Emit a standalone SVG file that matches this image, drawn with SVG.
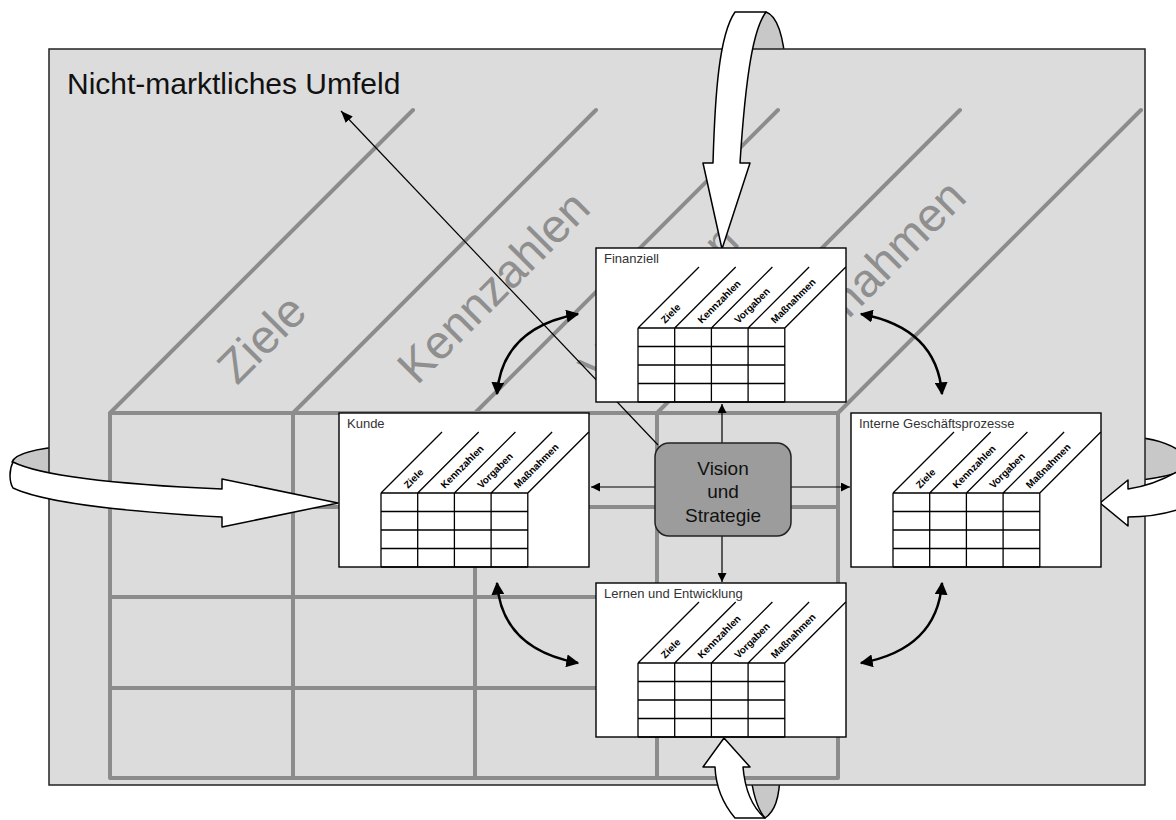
<svg xmlns="http://www.w3.org/2000/svg" width="1176" height="820" viewBox="0 0 1176 820">
<defs>
<style>
.bg{fill:#dcdcdc;stroke:#222;stroke-width:1.5}
.grid{stroke:#8c8c8c;stroke-width:4;fill:none;stroke-linecap:round}
.big{font-family:"Liberation Sans",Arial,sans-serif;font-size:47px;fill:#8f8f8f}
.box{fill:#fff;stroke:#000;stroke-width:1.4}
.tbl{stroke:#000;stroke-width:1.3;fill:none}
.ttl{font-family:"Liberation Sans",Arial,sans-serif;font-size:13px;fill:#333}
.lbl{font-family:"Liberation Sans",Arial,sans-serif;font-size:10px;font-weight:bold;fill:#000}
.thin{stroke:#000;stroke-width:1.2;fill:none}
.curve{stroke:#000;stroke-width:2.5;fill:none}
.hollow{fill:#fff;stroke:#000;stroke-width:1.5;stroke-linejoin:round}
.back{fill:#c8c8c8;stroke:#000;stroke-width:1.5}
.vis{fill:#9c9c9c;stroke:#222;stroke-width:1.5}
.vtxt{font-family:"Liberation Sans",Arial,sans-serif;font-size:19px;fill:#111;text-anchor:middle}
</style>
<marker id="ah" viewBox="0 0 10 10" refX="10" refY="5" markerWidth="9" markerHeight="9" markerUnits="userSpaceOnUse" orient="auto"><path d="M0,0 L10,5 L0,10 Z" fill="#000"/></marker>
<marker id="ahl" viewBox="0 0 10 10" refX="10" refY="5" markerWidth="12" markerHeight="12" markerUnits="userSpaceOnUse" orient="auto"><path d="M0,1 L10,5 L0,9 Z" fill="#000"/></marker>
<marker id="ahc" viewBox="0 0 10 10" refX="9" refY="5" markerWidth="13" markerHeight="13" markerUnits="userSpaceOnUse" orient="auto-start-reverse"><path d="M0,0 L10,5 L0,10 Z" fill="#000"/></marker>
<g id="table">
<rect x="0" y="0" width="250" height="154" class="box"/>
<path class="tbl" d="M42,80 H188.8 M42,98.5 H188.8 M42,117 H188.8 M42,135.5 H188.8 M42,154 H188.8 M42,80 V154 M78.7,80 V154 M115.4,80 V154 M152.1,80 V154 M188.8,80 V154 M42,80 L103,19 M78.7,80 L139.7,19 M115.4,80 L176.4,19 M152.1,80 L213.1,19 M188.8,80 L249.8,19"/>
<text class="lbl" transform="translate(69,76) rotate(-45)">Ziele</text>
<text class="lbl" transform="translate(105.7,76) rotate(-45)">Kennzahlen</text>
<text class="lbl" transform="translate(142.4,76) rotate(-45)">Vorgaben</text>
<text class="lbl" transform="translate(179.1,76) rotate(-45)">Maßnahmen</text>
</g>
</defs>

<g id="arrow-backs">
<path class="back" d="M766,12 C778,16 784,40 786,70 L748,70 C750,40 756,22 766,12 Z"/>
<path class="back" d="M12,462 C16,452 40,448 70,446 L70,476 C40,474 22,469 12,462 Z"/>
<path class="back" d="M1125,437 C1150,437 1168,443 1180,451 L1180,472 C1165,477 1145,480 1125,482 Z"/>
<path class="back" d="M750,770 L780,770 C780,800 774,812 765,818 C758,810 753,797 750,770 Z"/>
</g>

<g id="environment">
<rect class="bg" x="49" y="49" width="1096" height="736"/>
<text x="67" y="94" font-family="Liberation Sans, Arial, sans-serif" font-size="30" fill="#111">Nicht-marktliches Umfeld</text>
<path class="grid" d="M110,413 L413,110 M293,413 L596,110 M475,413 L778,110 M657,413 L960,110 M838,413 L1141,110 M110,413 H838 M110,507 H838 M110,597 H838 M110,688 H838 M110,778 H838 M110,413 V778 M293,413 V778 M475,413 V778 M657,413 V778 M838,413 V778"/>
<text class="big" transform="translate(237,386) rotate(-45)">Ziele</text>
<text class="big" transform="translate(417,386) rotate(-45)">Kennzahlen</text>
<text class="big" transform="translate(599,386) rotate(-45)">Vorgaben</text>
<text class="big" transform="translate(782,386) rotate(-45)">Maßnahmen</text>
</g>

<g id="connectors">
<line class="thin" x1="658" y1="445" x2="341" y2="111" marker-end="url(#ahl)"/>
<line class="thin" x1="722" y1="443" x2="722" y2="404" marker-end="url(#ah)"/>
<line class="thin" x1="722" y1="536" x2="722" y2="582" marker-end="url(#ah)"/>
<line class="thin" x1="655" y1="487" x2="591" y2="487" marker-end="url(#ah)"/>
<line class="thin" x1="791" y1="487" x2="850" y2="487" marker-end="url(#ah)"/>
<path class="curve" d="M497,394 Q502,328 578,314" marker-start="url(#ahc)" marker-end="url(#ahc)"/>
<path class="curve" d="M942,394 Q937,328 861,314" marker-start="url(#ahc)" marker-end="url(#ahc)"/>
<path class="curve" d="M497,583 Q502,649 578,663" marker-start="url(#ahc)" marker-end="url(#ahc)"/>
<path class="curve" d="M942,583 Q937,649 861,663" marker-start="url(#ahc)" marker-end="url(#ahc)"/>
<path class="hollow" d="M722,249 L703,163 L713,163 C715,95 719,35 735,12 L766,12 C754,28 746,70 740,163 L750,163 Z"/>
<path class="hollow" d="M338,503 L222,479 L222,489 C130,485 45,478 13,462 C9,470 9,481 13,488 C45,503 130,512 222,517 L222,527 Z"/>
<path class="hollow" d="M1100,503 L1128,480 L1128,489 C1148,486 1165,479 1180,470 L1180,509 C1165,514 1148,517 1128,517 L1128,526 Z"/>
<path class="hollow" d="M724,738 L750,767 L743,767 C745,790 753,808 765,818 L735,818 C724,805 716,790 715,767 L703,767 Z"/>
</g>

<g id="finanziell">
<use href="#table" x="596" y="248"/>
<text class="ttl" x="604" y="263">Finanziell</text>
</g>
<g id="kunde">
<use href="#table" x="339" y="413"/>
<text class="ttl" x="347" y="428">Kunde</text>
</g>
<g id="interne">
<use href="#table" x="851" y="413"/>
<text class="ttl" x="859" y="428">Interne Geschäftsprozesse</text>
</g>
<g id="lernen">
<use href="#table" x="596" y="583"/>
<text class="ttl" x="604" y="598">Lernen und Entwicklung</text>
</g>
<g id="vision">
<rect class="vis" x="655" y="443" width="136" height="93" rx="14"/>
<text class="vtxt" x="723" y="475">Vision</text>
<text class="vtxt" x="723" y="498">und</text>
<text class="vtxt" x="723" y="522">Strategie</text>
</g>
</svg>
